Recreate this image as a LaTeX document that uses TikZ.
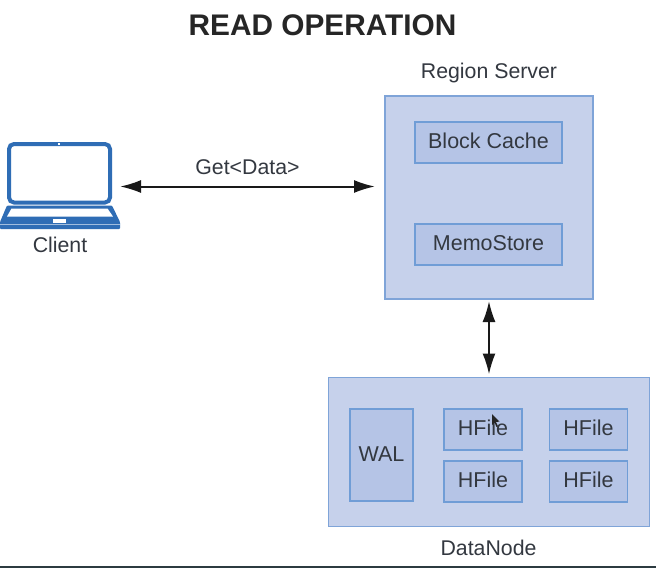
\documentclass[tikz,border=0pt]{standalone}
\usepackage{fontspec}
\setmainfont{Liberation Sans}
\usetikzlibrary{arrows.meta}
\definecolor{outerfill}{HTML}{C6D1EB}
\definecolor{outerline}{HTML}{7FA4D8}
\definecolor{innerfill}{HTML}{B5C4E6}
\definecolor{innerline}{HTML}{709DD6}
\definecolor{inktext}{HTML}{333840}
\definecolor{laptopblue}{HTML}{2F6DB5}
\definecolor{stripdark}{HTML}{2C3B40}
\tikzset{
  x=1pt,y=-1pt,
  outerbox/.style={draw=outerline,fill=outerfill,line width=1.2pt,minimum width=#1,inner sep=0pt,outer sep=0pt},
  innerbox/.style={draw=innerline,fill=innerfill,line width=1.2pt,inner sep=0pt,outer sep=0pt,text=inktext,text height=15pt,text depth=3pt,font=\fontsize{21.5}{24}\selectfont},
  lbl/.style={text=inktext,inner sep=0pt,font=\fontsize{21.3}{24}\selectfont},
  link/.style={draw=black!90,line width=2pt,{Latex[length=21pt,width=13pt]}-{Latex[length=21pt,width=13pt]}},
}
\begin{document}
\begin{tikzpicture}
\useasboundingbox (0,0) rectangle (656,568);
\fill[white] (0,0) rectangle (656,568);
\fill[stripdark] (0,566) rectangle (656,568);

\node[font=\bfseries\fontsize{29.8}{32}\selectfont,text=black!85,inner sep=0pt] (title) at (322.5,25) {READ OPERATION};

% boxes
\node[outerbox=208pt,minimum height=203pt] (region) at (489,197.5) {};
\node[innerbox,minimum width=147pt,minimum height=41pt] (cache) at (488.5,142.5) {Block Cache};
\node[innerbox,minimum width=147pt,minimum height=41pt] (memo) at (488.5,244.5) {MemoStore};
\node[outerbox=321pt,minimum height=149pt] (data) at (489,452) {};
\node[innerbox,minimum width=63pt,minimum height=92pt] (wal) at (381.5,455) {WAL};
\node[innerbox,minimum width=78pt,minimum height=41pt] (h1) at (483,429.5) {HFile};
\node[innerbox,minimum width=78pt,minimum height=41pt] (h2) at (588.5,429.5) {HFile};
\node[innerbox,minimum width=78pt,minimum height=41pt] (h3) at (483,481.5) {HFile};
\node[innerbox,minimum width=78pt,minimum height=41pt] (h4) at (588.5,481.5) {HFile};

% labels
\node[lbl] (regionlabel) at (489,73) {Region Server};
\node[lbl] (datalabel) at (488.5,548) {DataNode};
\node[lbl] (clientlabel) at (60,245) {Client};
\node[lbl] (getlabel) at (247.5,167) {Get<Data>};

% laptop
\node[minimum width=120pt,minimum height=87pt,inner sep=0pt,outer sep=0pt] (laptop) at (60,186.5) {};
\draw[laptopblue,line width=4pt,rounded corners=5pt] (9,144) rectangle (110,202.5);
\fill[white] (58,143.2) rectangle (60,145.2);
\fill[laptopblue,rounded corners=1pt] (7,205.5) -- (112,205.5) -- (120,222) -- (120,229) -- (0,229) -- (0,222) -- cycle;
\fill[white] (11.5,208.5) -- (107.5,208.5) -- (113,216.5) -- (7,216.5) -- cycle;
\fill[white] (53,218.5) rectangle (66,222.5);
\fill[white!55!laptopblue] (0,224) rectangle (120,225);

% connectors
\draw[link] (laptop.east) -- ([xshift=-10pt]laptop.east -| region.west);
\draw[link] ([yshift=-2pt]region.south) -- ([yshift=3pt]region.south |- data.north);

% mouse pointer
\fill[black!85] (492,414) -- (492,425) -- (494.5,422.5) -- (496.5,427) -- (498,426.3) -- (496,422) -- (499.5,421.5) -- cycle;
\end{tikzpicture}
\end{document}
